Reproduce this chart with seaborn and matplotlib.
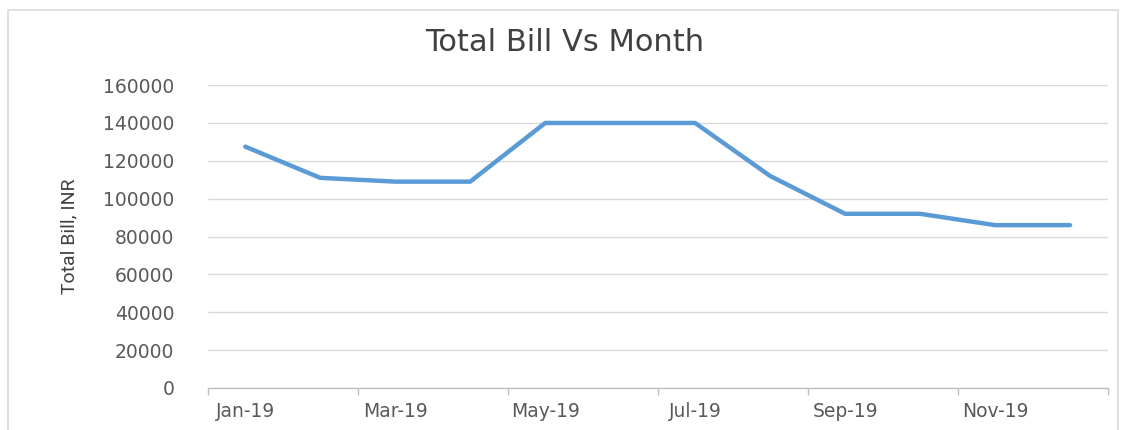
import matplotlib
matplotlib.use("Agg")
import matplotlib.pyplot as plt
import matplotlib.patches as patches
import seaborn as sns
import pandas as pd

# Maanden en totale rekening (INR)
months = ["Jan-19", "Feb-19", "Mar-19", "Apr-19", "May-19", "Jun-19",
          "Jul-19", "Aug-19", "Sep-19", "Oct-19", "Nov-19", "Dec-19"]
total_bill = [127500, 111000, 109000, 109000, 140000, 140000,
              140000, 112000, 92000, 92000, 86000, 86000]
y_ticks = [0, 20000, 40000, 60000, 80000, 100000, 120000, 140000, 160000]

df = pd.DataFrame({"pos": range(len(months)), "month": months, "bill": total_bill})

sns.set_style("white")
plt.rcParams['font.family'] = ['DejaVu Sans']

fig = plt.figure(figsize=(11.29, 4.30), dpi=100)
ax = fig.add_axes([0.184, 0.098, 0.797, 0.704])

sns.lineplot(data=df, x="pos", y="bill", ax=ax, color="#5B9BD5", linewidth=3.2)

ax.set_xlim(-0.5, len(months) - 0.5)
ax.set_ylim(0, 160000)
ax.set_yticks(y_ticks)
ax.set_yticklabels([str(v) for v in y_ticks])
ax.set_xticks(df["pos"][::2])
ax.set_xticklabels(df["month"][::2])
ax.set_xticks([p - 0.5 for p in range(0, len(months) + 1, 2)], minor=True)
ax.tick_params(axis="x", which="major", length=0, pad=10, labelsize=13.5, colors="#595959")
ax.tick_params(axis="x", which="minor", bottom=True, length=5, width=1,
               color="#BFBFBF", direction="out")
ax.tick_params(axis="y", length=0, pad=24, labelsize=13.5, colors="#595959")

ax.grid(axis="y", color="#D9D9D9", linewidth=1)
for s in ["top", "right", "left"]:
    ax.spines[s].set_visible(False)
ax.spines["bottom"].set_color("#BFBFBF")
ax.spines["bottom"].set_linewidth(1)

ax.set_xlabel("")
ax.set_ylabel("Total Bill, INR", fontsize=14, color="#404040",
              family=['Liberation Sans Narrow', 'Roboto', 'DejaVu Sans'],
              fontstretch="condensed", labelpad=18)
fig.suptitle("Total Bill Vs Month", fontsize=22, color="#404040", y=0.935)

# kader rond de grafiek
frame = patches.Rectangle((0.007, -0.01), 0.983, 0.987, transform=fig.transFigure,
                          fill=False, edgecolor="#D9D9D9", linewidth=1.2)
fig.patches.append(frame)

plt.savefig("out.png", dpi=100)
